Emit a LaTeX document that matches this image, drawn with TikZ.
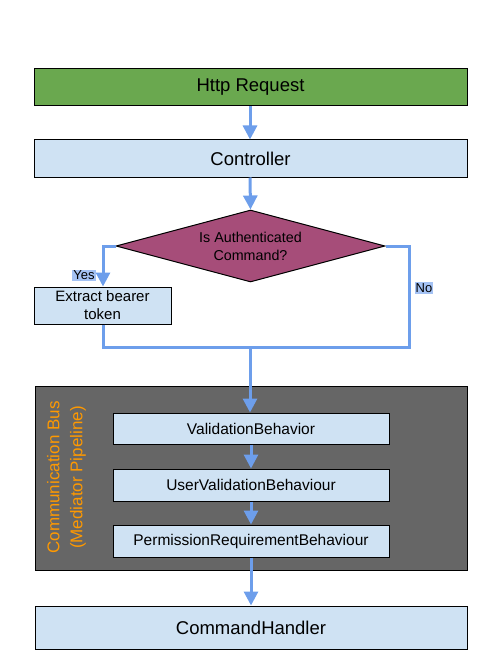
\documentclass[tikz,border=0pt]{standalone}
\usepackage{fontspec}
\setmainfont{Liberation Sans}
\usetikzlibrary{arrows.meta,shapes.geometric}
\definecolor{hgreen}{HTML}{6AA84F}
\definecolor{lblue}{HTML}{CFE2F3}
\definecolor{dmag}{HTML}{A64D79}
\definecolor{conn}{HTML}{6D9EEB}
\definecolor{busgray}{HTML}{666666}
\definecolor{busorange}{HTML}{FF9900}
\definecolor{lab}{HTML}{A4C2F4}
\tikzset{
  boxstyle/.style={draw=black, line width=1pt, fill=lblue, inner sep=0pt, align=center},
  conline/.style={draw=conn, line width=3pt},
  conarrow/.style={conline, -{Triangle[width=14pt,length=14pt]}},
  lbl/.style={fill=lab, inner sep=1pt, font=\fontsize{13}{14}\selectfont}
}
\begin{document}
\begin{tikzpicture}[x=1pt,y=-1pt]
\useasboundingbox (0,0) rectangle (502,671);
% bus container
\node[draw=black, line width=1pt, fill=busgray, minimum width=432pt, minimum height=184pt, inner sep=0pt] (bus) at (251,478) {};
\node[rotate=90, text=busorange, align=center, font=\fontsize{17}{23}\selectfont] (buslabel) at (66.5,477.5) {Communication Bus\\(Mediator Pipeline)};
% labels
\node[lbl] (yes) at (84,275.5) {Yes};
\node[lbl] (no) at (424,288) {No};
% nodes
\node[boxstyle, fill=hgreen, minimum width=433pt, minimum height=37pt, font=\fontsize{18.5}{21}\selectfont] (http) at (250.5,87.5) {Http Request};
\node[boxstyle, minimum width=433pt, minimum height=37pt, font=\fontsize{18.5}{21}\selectfont] (ctrl) at (250.5,158.5) {Controller};
\node[diamond, draw=black, line width=1pt, fill=dmag, minimum width=269pt, minimum height=72pt, aspect=3.7, inner sep=0pt] (auth) at (250.5,246) {};
\node[align=center, font=\fontsize{14.3}{18}\selectfont] (authtext) at (250.5,246) {Is Authenticated\\Command?};
\node[boxstyle, minimum width=137pt, minimum height=37pt, font=\fontsize{15}{18}\selectfont] (token) at (102.5,305.5) {Extract bearer\\token};
\node[boxstyle, minimum width=276pt, minimum height=31pt, font=\fontsize{15.5}{18}\selectfont] (v1) at (251,428.5) {ValidationBehavior};
\node[boxstyle, minimum width=276pt, minimum height=32pt, font=\fontsize{15.5}{18}\selectfont] (v2) at (251,485) {UserValidationBehaviour};
\node[boxstyle, minimum width=276pt, minimum height=32pt, font=\fontsize{15.5}{18}\selectfont] (v3) at (251,541) {PermissionRequirementBehaviour};
\node[boxstyle, minimum width=432pt, minimum height=43pt, font=\fontsize{18.5}{21}\selectfont] (handler) at (251,627.5) {CommandHandler};
% coordinates
\coordinate (yescorner) at (103,246);
\coordinate (nocorner) at (409,246);
\coordinate (nobottom) at (409,347);
\coordinate (yesbottom) at (103,347);
\coordinate (merge) at (250,347);
% connectors
\draw[conarrow] (http.south -| 250,0) -- (ctrl.north -| 250,0);
\draw[conarrow] (ctrl.south -| 250,0) -- (auth.north);
\draw[conarrow] (auth.west) -- (yescorner) -- (token.north -| yescorner);
\draw[conline] (auth.east) -- (nocorner) -- (nobottom) -- (merge);
\draw[conline] (token.south -| yesbottom) -- (yesbottom) -- (merge);
\draw[conarrow] (merge) -- (v1.north -| merge);
\draw[conarrow] (v1.south) -- (v2.north);
\draw[conarrow] (v2.south) -- (v3.north);
\draw[conarrow] (v3.south) -- (handler.north);
\end{tikzpicture}
\end{document}
